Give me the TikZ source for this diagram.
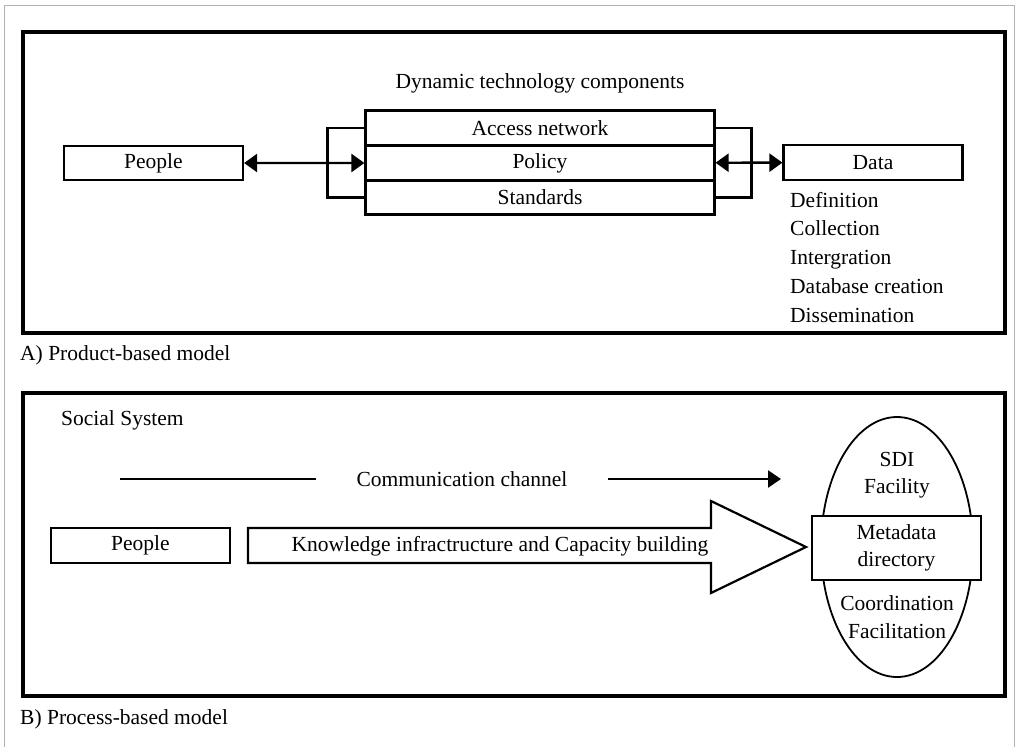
\documentclass[tikz,border=0pt]{standalone}
\usepackage{fontspec}
\setmainfont{Liberation Serif}
\usetikzlibrary{shapes, arrows.meta, positioning}
\tikzstyle{block} = [draw, fill=white, rectangle, line width=2.2pt, inner sep=0pt, align=center]
\tikzstyle{frame} = [draw, line width=4.5pt]
\tikzstyle{txt} = [inner sep=0pt, anchor=base west]
\tikzstyle{link} = [draw, line width=2.4pt]

\begin{document}
\begin{tikzpicture}[x=1pt, y=-1pt, >={Triangle[length=13pt,width=18pt]},
    every node/.style={font=\fontsize{21.5}{27.5}\selectfont}]
    \useasboundingbox (0,0) rectangle (1017,747);
    \draw [gray!60, line width=1pt] (4,747) -- (4,5) -- (1014,5) -- (1014,747);
    \draw [frame] (23,32) rectangle (1005,333);
    \node (dtc) at (540,83) {Dynamic technology components};
    \node [block, minimum width=349, minimum height=35] (access) at (540,128) {Access network};
    \node [block, minimum width=349, minimum height=35, below=-2.2pt of access] (policy) {Policy};
    \node [block, minimum width=349, minimum height=34, below=-2.2pt of policy] (standards) {Standards};
    \node [block, minimum width=179, minimum height=34] (people) at (153.5,163) {People};
    \node [block, minimum width=179, minimum height=35] (data) at (873,162.5) {Data};
    \draw [link,<->] (people) -- (policy);
    \draw [link,<->] (policy) -- (data);
    \draw [link] (access.west) -- ++(-37,0) |- (standards.west);
    \draw [link] (access.east) -- ++(36,0) |- (standards.east);
    \foreach \t [count=\i] in {Definition, Collection, Intergration, Database creation, Dissemination}
        \node [txt] (item\i) at (790,178.5+28.7*\i) {\t};
    \node [txt] (capa) at (20,360) {A) Product-based model};

    \draw [frame] (23,393) rectangle (1005,696);
    \node [txt] (social) at (61,425) {Social System};
    \coordinate (cstart) at (120,479);
    \coordinate (cend) at (781,479);
    \node [inner xsep=40pt] (comm) at (462,479) {Communication channel};
    \draw [link] (cstart) -- (comm.west);
    \draw [link,-{Triangle[length=13pt,width=17pt]}] (comm.east) -- (cend);
    \node [block, minimum width=179, minimum height=35] (people2) at (140.5,545.5) {People};
    \draw [line width=2.2pt] (248,528) -- (711,528) -- (711,501) -- (806,547)
        -- (711,593) -- (711,563) -- (248,563) -- cycle;
    \node (kicb) at (500,546) {Knowledge infractructure and Capacity building};
    \node [draw, ellipse, line width=1.8pt, minimum width=152, minimum height=260] (sdi) at (897,547) {};
    \node [block, minimum width=169, minimum height=64] (meta) at (896.5,548) {Metadata\\directory};
    \node [align=center] (facility) at (897,475) {SDI\\Facility};
    \node [align=center] (coord) at (897,617) {Coordination\\Facilitation};
    \node [txt] (capb) at (20,724) {B) Process-based model};
\end{tikzpicture}
\end{document}
